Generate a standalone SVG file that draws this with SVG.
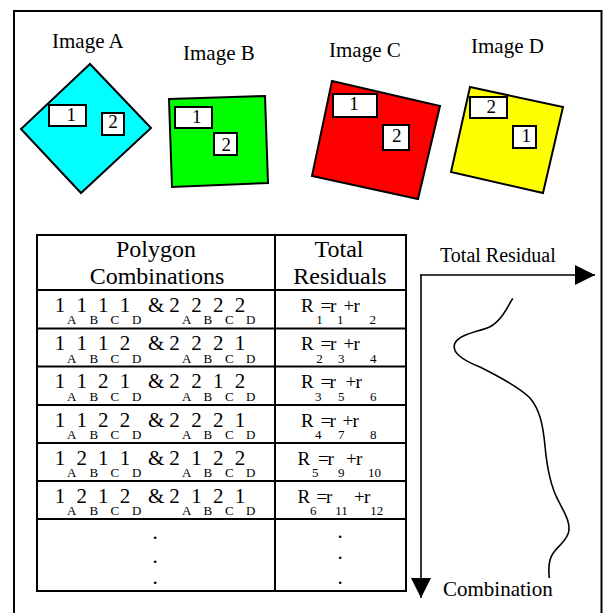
<svg xmlns="http://www.w3.org/2000/svg" width="604" height="613" viewBox="0 0 604 613">
<style>
text{font-family:"Liberation Serif","Times New Roman",serif;fill:#000}
.lbl{font-size:21px}
.num{font-size:19px;text-anchor:middle}
.hd{font-size:24px;text-anchor:middle}
.m{font-size:21px}
.r{font-size:19px}
.s{font-size:13px}
.dot{font-size:21px;text-anchor:middle}
.poly{stroke:#000;stroke-width:2;stroke-linejoin:miter}
.box{fill:#fff;stroke:#000;stroke-width:2}
.grid{fill:none;stroke:#000;stroke-width:2}
.axis{fill:none;stroke:#000;stroke-width:1.6}
</style>
<defs>
<marker id="ah" markerUnits="userSpaceOnUse" markerWidth="20" markerHeight="20" refX="20" refY="10" orient="auto" viewBox="0 0 20 20">
<path d="M0,0 L20,10 L0,20 z" fill="#000"/>
</marker>
</defs>
<rect x="14" y="11" width="587.5" height="604" fill="#fff" stroke="#000" stroke-width="2"/>

<g id="imageA">
<text class="lbl" x="52" y="47.5">Image A</text>
<polygon class="poly" fill="#00FFFF" points="90,64 151,128 81,193 21,129"/>
<rect class="box" x="49" y="105" width="37" height="21"/>
<text class="num" x="71.3" y="120.7">1</text>
<rect class="box" x="102" y="113" width="22" height="22"/>
<text class="num" x="113" y="128">2</text>
</g>

<g id="imageB">
<text class="lbl" x="183" y="59.5">Image B</text>
<polygon class="poly" fill="#00FF00" points="169,99 265,96 268,183 172,187"/>
<rect class="box" x="175" y="107" width="37" height="21"/>
<text class="num" x="196.7" y="123">1</text>
<rect class="box" x="214" y="133" width="23" height="22"/>
<text class="num" x="226.3" y="150.5">2</text>
</g>

<g id="imageC">
<text class="lbl" x="329" y="57">Image C</text>
<polygon class="poly" fill="#FF0000" points="332,81 440,106 418,199 312,176"/>
<rect class="box" x="333" y="94" width="44" height="23"/>
<text class="num" x="354" y="109.5">1</text>
<rect class="box" x="383" y="125" width="26" height="25"/>
<text class="num" x="396.7" y="141.7">2</text>
</g>

<g id="imageD">
<text class="lbl" x="471" y="52.5">Image D</text>
<polygon class="poly" fill="#FFFF00" points="470,87 563,107 543,193 451,172"/>
<rect class="box" x="470" y="97" width="37" height="21"/>
<text class="num" x="491.3" y="113.3">2</text>
<rect class="box" x="513" y="126" width="23" height="22"/>
<text class="num" x="526.3" y="141.7">1</text>
</g>

<g id="table">
<rect class="grid" x="37" y="235" width="369" height="356"/>
<line class="grid" x1="275" y1="235" x2="275" y2="591"/>
<line class="grid" x1="37" y1="290" x2="406" y2="290"/>
<line class="grid" x1="37" y1="328.5" x2="406" y2="328.5"/>
<line class="grid" x1="37" y1="366.5" x2="406" y2="366.5"/>
<line class="grid" x1="37" y1="405" x2="406" y2="405"/>
<line class="grid" x1="37" y1="443" x2="406" y2="443"/>
<line class="grid" x1="37" y1="481" x2="406" y2="481"/>
<line class="grid" x1="37" y1="519" x2="406" y2="519"/>

<text class="hd" x="156" y="257">Polygon</text>
<text class="hd" x="157" y="284">Combinations</text>
<text class="hd" x="339" y="257">Total</text>
<text class="hd" x="340" y="284">Residuals</text>

<text class="m" y="311.5"><tspan x="54.7 76.4 98 119.7 148 169.3 191.3 213 234.8">1111&amp;2222</tspan><tspan class="s" x="67 89.5 110.5 132 182 203.5 225 246" y="324">ABCDABCD</tspan></text>
<text class="m" y="350"><tspan x="54.7 76.4 98 119.7 148 169.3 191.3 213 234.8">1112&amp;2221</tspan><tspan class="s" x="67 89.5 110.5 132 182 203.5 225 246" y="362.5">ABCDABCD</tspan></text>
<text class="m" y="388"><tspan x="54.7 76.4 98 119.7 148 169.3 191.3 213 234.8">1121&amp;2212</tspan><tspan class="s" x="67 89.5 110.5 132 182 203.5 225 246" y="400.5">ABCDABCD</tspan></text>
<text class="m" y="426.5"><tspan x="54.7 76.4 98 119.7 148 169.3 191.3 213 234.8">1122&amp;2221</tspan><tspan class="s" x="67 89.5 110.5 132 182 203.5 225 246" y="439">ABCDABCD</tspan></text>
<text class="m" y="464.5"><tspan x="54.7 76.4 98 119.7 148 169.3 191.3 213 234.8">1211&amp;2122</tspan><tspan class="s" x="67 89.5 110.5 132 182 203.5 225 246" y="477">ABCDABCD</tspan></text>
<text class="m" y="502.5"><tspan x="54.7 76.4 98 119.7 148 169.3 191.3 213 234.8">1212&amp;2121</tspan><tspan class="s" x="67 89.5 110.5 132 182 203.5 225 246" y="515">ABCDABCD</tspan></text>

<text class="r" y="311.5"><tspan x="301 320.5 330 343.5 353.5">R=r+r</tspan><tspan class="s" x="316.3 337 369.6" y="324">112</tspan></text>
<text class="r" y="350"><tspan x="301 320.5 330 343.5 353.5">R=r+r</tspan><tspan class="s" x="316.3 338 370" y="362.5">234</tspan></text>
<text class="r" y="388"><tspan x="301 320.5 329.5 345.5 355.5">R=r+r</tspan><tspan class="s" x="315 338 370" y="400.5">356</tspan></text>
<text class="r" y="426.5"><tspan x="301 320.5 329.5 342.5 352.5">R=r+r</tspan><tspan class="s" x="315 338 370" y="439">478</tspan></text>
<text class="r" y="464.5"><tspan x="297.5 318 327.5 346 356">R=r+r</tspan><tspan class="s" x="312 338" y="477">59</tspan><tspan class="s" x="368" y="477">10</tspan></text>
<text class="r" y="502.5"><tspan x="297.5 316.5 326 354 364">R=r+r</tspan><tspan class="s" x="310" y="515">6</tspan><tspan class="s" x="335.3" y="515">11</tspan><tspan class="s" x="370.3" y="515">12</tspan></text>

<text class="dot" x="155" y="539">.</text>
<text class="dot" x="155" y="562.5">.</text>
<text class="dot" x="155" y="583.5">.</text>
<text class="dot" x="340" y="537.5">.</text>
<text class="dot" x="340" y="558.5">.</text>
<text class="dot" x="340" y="583.5">.</text>
</g>

<g id="connectors">
<line class="axis" x1="421" y1="274.5" x2="421" y2="598" marker-end="url(#ah)"/>
<line class="axis" x1="420.2" y1="275" x2="595" y2="275" marker-end="url(#ah)"/>
<path class="axis" d="M512.7,298.3 C506,310 500,322 490,326.7 C478,332 460,334 455,343 C451,352 462,360 480,367 C500,377 520,388 530,398 C540,410 543,425 545,446 C547,468 550,485 558,500 C564,512 572,524 568,534 C563,546 553,548 550,560 C548,568 549,574 549.3,578"/>
</g>

<g id="axisLabels">
<text class="lbl" style="font-size:20px" x="440" y="262">Total Residual</text>
<text class="lbl" x="443" y="596">Combination</text>
</g>
</svg>
